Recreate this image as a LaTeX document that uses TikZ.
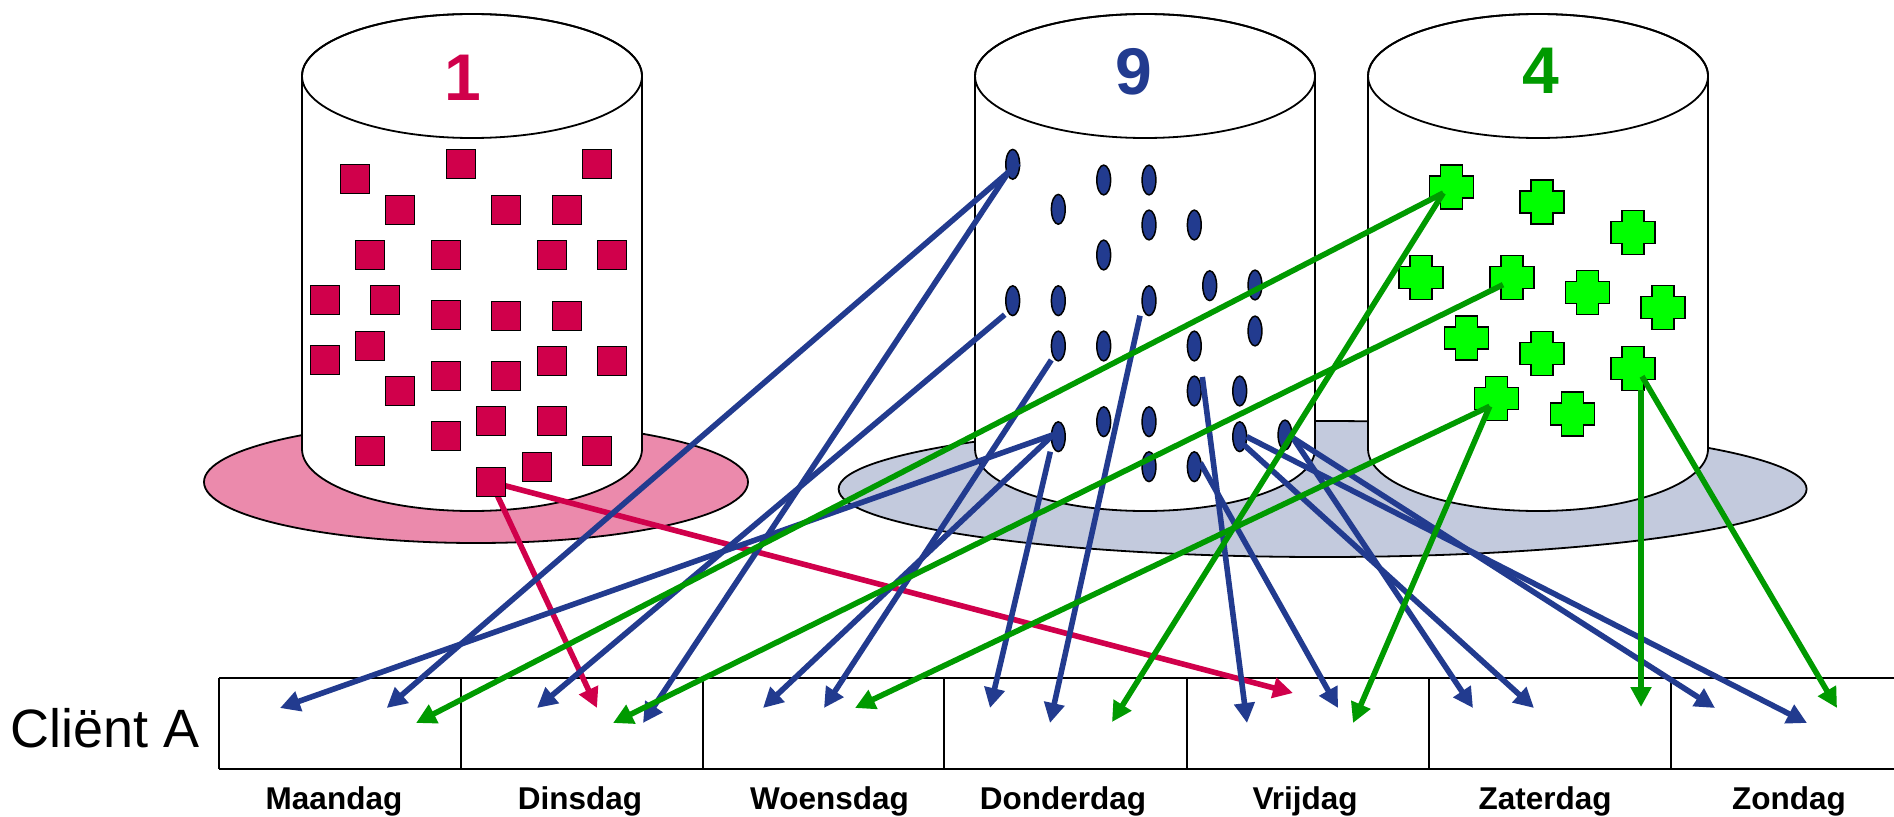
\documentclass[tikz,border=0pt]{standalone}
\usepackage{fontspec}
\setmainfont{Liberation Sans}
\usetikzlibrary{arrows.meta,shapes.geometric}

\definecolor{crim}{HTML}{D0004B}
\definecolor{pinkbrim}{HTML}{EB8AAC}
\definecolor{navy}{HTML}{223B8F}
\definecolor{bluebrim}{HTML}{C3CADD}
\definecolor{grn}{HTML}{009A00}
\definecolor{crossgreen}{HTML}{00FF00}

\tikzset{
  outline/.style={draw=black, line width=1.8pt},
  sq/.style={draw=black, fill=crim, line width=1.5pt, minimum size=29pt, inner sep=0pt},
  dot/.style={ellipse, draw=black, fill=navy, line width=1.5pt,
              minimum width=13.8pt, minimum height=29.8pt, inner sep=0pt},
  conn/.style={line width=5.6pt, -{Triangle[length=20pt,width=20pt]}},
  redconn/.style={conn, draw=crim},
  blueconn/.style={conn, draw=navy},
  greenconn/.style={conn, draw=grn},
  digit/.style={inner sep=0pt, font=\fontsize{66}{70}\selectfont\bfseries},
  daylbl/.style={anchor=base, inner sep=0pt, font=\fontsize{31.5}{34}\selectfont\bfseries},
  grid/.style={draw=black, line width=2pt}
}

% a cylinder standing on its base: centre x, top ellipse y, bottom ellipse y
\newcommand\cylinder[3]{%
  \filldraw[outline, fill=white] (#1-170,#2) -- (#1-170,#3)
    arc[start angle=180, end angle=360, x radius=170pt, y radius=62pt]
    -- (#1+170,#2)
    arc[start angle=0, end angle=180, x radius=170pt, y radius=62pt] -- cycle;
  \draw[outline] (#1,#2) ellipse [x radius=170pt, y radius=62pt];
}

% green plus sign around a named coordinate
\newcommand\plusmark[1]{%
  \filldraw[fill=crossgreen, draw=black, line width=1.5pt] (#1) ++(-11,-22)
    -- ++(22,0) -- ++(0,11) -- ++(11,0) -- ++(0,22) -- ++(-11,0) -- ++(0,11)
    -- ++(-22,0) -- ++(0,-11) -- ++(-11,0) -- ++(0,-22) -- ++(11,0) -- cycle;%
}

\begin{document}
\begin{tikzpicture}[x=1pt,y=-1pt]
\useasboundingbox (0,0) rectangle (1894,816);

% brims
\filldraw[outline, fill=pinkbrim] (476,482) ellipse [x radius=272pt, y radius=61pt];
\filldraw[outline, fill=bluebrim] (1322.6,489) ellipse [x radius=484pt, y radius=68pt];

% cylinders
\cylinder{472}{76}{449}
\cylinder{1145}{76}{449}
\cylinder{1538}{76}{449}

% counts on the lids
\node[digit, text=crim] (n1) at (463,78) {1};
\node[digit, text=navy] (n9) at (1134,71.5) {9};
\node[digit, text=grn]  (n4) at (1541,71) {4};

% week table
\draw[grid] (219,678.3) -- (1894,678.3);
\draw[grid] (219,769) -- (1894,769);
\foreach \x in {219,461,703,944,1187,1429,1671}
  {\draw[grid] (\x,678.3) -- (\x,769);}

\node[anchor=base west, inner sep=0pt, font=\fontsize{54}{60}\selectfont] (client) at (10,747) {Cliënt A};
\node[daylbl] (ma) at (334,809.5)  {Maandag};
\node[daylbl] (di) at (580,809.5)  {Dinsdag};
\node[daylbl] (wo) at (829.5,809.5){Woensdag};
\node[daylbl] (do) at (1063,809.5) {Donderdag};
\node[daylbl] (vr) at (1305,809.5) {Vrijdag};
\node[daylbl] (za) at (1545,809.5) {Zaterdag};
\node[daylbl] (zo) at (1789,809.5) {Zondag};

% arrow tips inside the table
\coordinate (ma1) at (280,708);
\coordinate (ma2) at (386.7,708);
\coordinate (ma3) at (416,723);
\coordinate (di1) at (537,708);
\coordinate (di2) at (597,708);
\coordinate (di3) at (613,723);
\coordinate (di4) at (643,723);
\coordinate (wo1) at (763,708);
\coordinate (wo2) at (824,708);
\coordinate (wo3) at (855,708);
\coordinate (do1) at (990,708);
\coordinate (do2) at (1050,723);
\coordinate (do3) at (1112,722);
\coordinate (vr1) at (1247,723);
\coordinate (vr2) at (1293,693);
\coordinate (vr3) at (1338,708);
\coordinate (vr4) at (1353,723);
\coordinate (za1) at (1473,708);
\coordinate (za2) at (1534,708);
\coordinate (za3) at (1641,707);
\coordinate (zo1) at (1715,708);
\coordinate (zo2) at (1807,723);
\coordinate (zo3) at (1837,708);

% red items
\coordinate (s29) at (491,482);
\draw[redconn] (s29) -- (di2);
\draw[redconn] (s29) -- (vr2);
\foreach \n/\x/\y in {1/355/179, 2/461/164, 3/597/164, 4/400/210, 5/506/210,
  6/567/210, 7/370/255, 8/446/255, 9/552/255, 10/612/255, 11/325/300,
  12/385/300, 13/446/315, 14/506/316, 15/567/316, 16/370/346, 17/325/360,
  18/552/361, 19/612/361, 20/446/376, 21/506/376, 22/400/391, 23/491/421,
  24/552/421, 25/446/436, 26/370/451, 27/597/451, 28/537/467}
  {\node[sq] (s\n) at (\x,\y) {};}
\node[sq] (sq29) at (s29) {};

% blue items
\foreach \n/\x/\y in {1/1012.7/164.3, 2/1103.7/180, 3/1149/180, 4/1058.3/209.3,
  5/1149/225, 6/1194.3/225, 7/1103.7/255, 8/1209.7/285.7, 9/1255/285,
  10/1012.7/300.7, 11/1058.3/300.7, 12/1149/300.7, 13/1255/331,
  14/1058.3/346, 15/1103.7/346, 16/1194.3/346, 17/1194.3/391,
  18/1239.7/391, 19/1103.7/421.7, 20/1149/421.7, 21/1058.3/436.7,
  22/1239.7/436.7, 23/1285/435, 24/1149/466.7, 25/1194.3/466.7}
  {\node[dot] (e\n) at (\x,\y) {};}

\draw[blueconn] ([shift={(6,-1)}]e1.center)   -- (ma2);
\draw[blueconn] ([shift={(-3,6)}]e1.center)   -- (di4);
\draw[blueconn] ([shift={(-8,14)}]e10.center) -- (di1);
\draw[blueconn] ([shift={(-7,14)}]e14.center) -- (wo2);
\draw[blueconn] ([shift={(-9,15)}]e12.center) -- (do2);
\draw[blueconn] ([shift={(-5,-2)}]e21.center) -- (ma1);
\draw[blueconn] ([shift={(-5,-2)}]e21.center) -- (wo1);
\draw[blueconn] ([shift={(-8,15)}]e21.center) -- (do1);
\draw[blueconn] ([shift={(8,-14)}]e17.center) -- (vr1);
\draw[blueconn] ([shift={(6,-4)}]e25.center)  -- (vr3);
\draw[blueconn] ([shift={(8,3)}]e23.center)   -- (za1);
\draw[blueconn] ([shift={(8,3)}]e23.center)   -- (zo1);
\draw[blueconn] ([shift={(4,8)}]e22.center)   -- (za2);
\draw[blueconn] ([shift={(7,0)}]e22.center)   -- (zo2);

% green items
\coordinate (c1)  at (1451.3,187);
\coordinate (c2)  at (1542,202);
\coordinate (c3)  at (1633,232.3);
\coordinate (c4)  at (1421,277.7);
\coordinate (c5)  at (1512,277.7);
\coordinate (c6)  at (1587.3,292.7);
\coordinate (c7)  at (1663,307.7);
\coordinate (c8)  at (1466.7,338);
\coordinate (c9)  at (1542,353.3);
\coordinate (c10) at (1633,368.3);
\coordinate (c11) at (1496.7,398.3);
\coordinate (c12) at (1572.3,414);
\foreach \c in {c1,c2,c3,c4,c5,c6,c7,c8,c9,c10,c11,c12}
  {\plusmark{\c}}

\draw[greenconn] ([shift={(-8,6)}]c1.center)   -- (ma3);
\draw[greenconn] ([shift={(-8,6)}]c1.center)   -- (do3);
\draw[greenconn] ([shift={(-9,7)}]c5.center)   -- (di3);
\draw[greenconn] ([shift={(-7,8)}]c11.center)  -- (wo3);
\draw[greenconn] ([shift={(-7,8)}]c11.center)  -- (vr4);
\draw[greenconn] ([shift={(8,22)}]c10.center)  -- (za3);
\draw[greenconn] ([shift={(9,8)}]c10.center)   -- (zo3);
\end{tikzpicture}
\end{document}
